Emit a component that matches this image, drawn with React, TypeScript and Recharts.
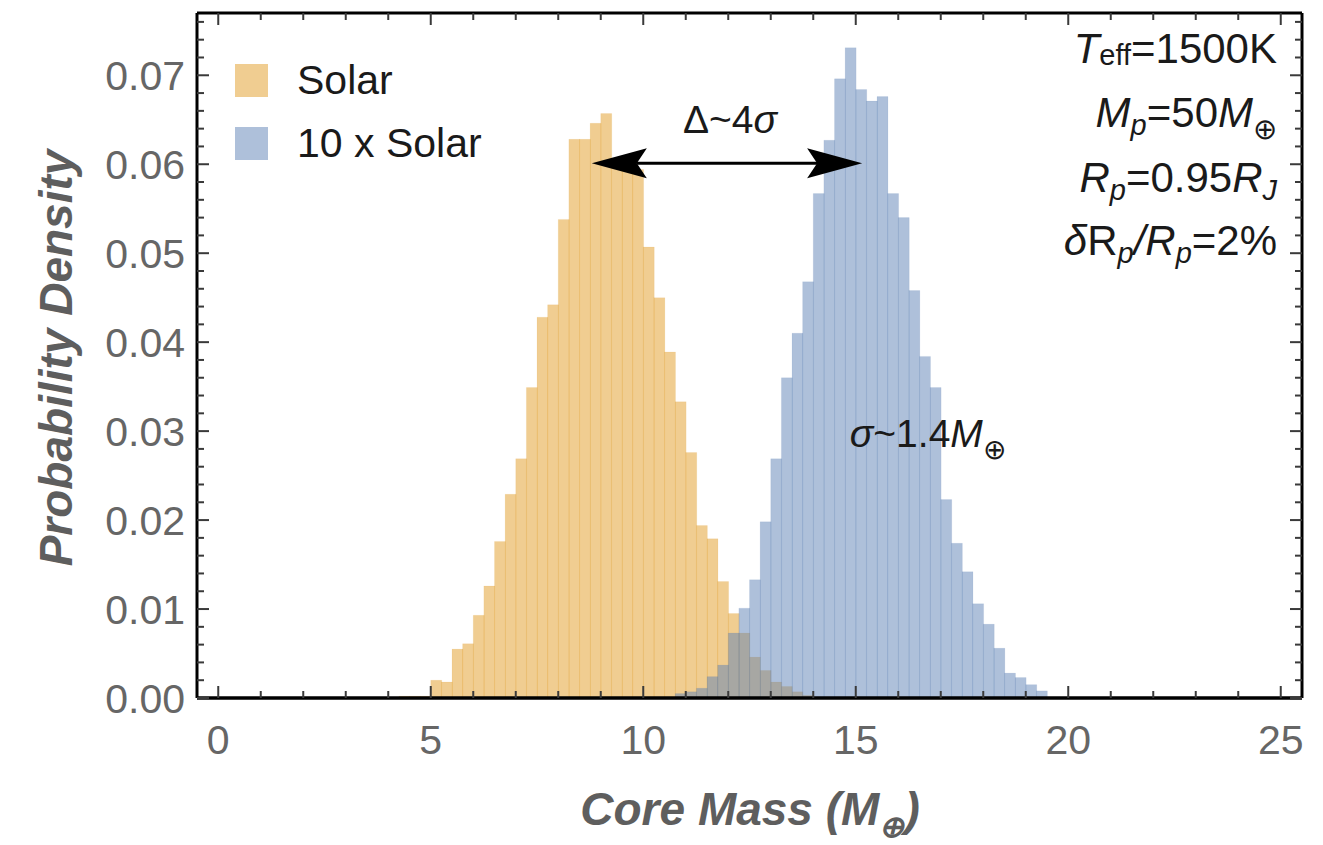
import React from 'react';
import {
  ComposedChart,
  Bar,
  XAxis,
  YAxis,
  ReferenceLine,
  ReferenceDot,
  Legend,
  Customized,
} from 'recharts';

const FONT = '"Liberation Sans", Arial, Helvetica, sans-serif';

// Histogram bins (left edges, width 0.25 Earth masses)
const BIN_WIDTH = 0.25;
const binStarts = [
  4.25, 4.5, 4.75, 5, 5.25, 5.5, 5.75, 6, 6.25, 6.5, 6.75, 7, 7.25, 7.5, 7.75,
  8, 8.25, 8.5, 8.75, 9, 9.25, 9.5, 9.75, 10, 10.25, 10.5, 10.75, 11, 11.25,
  11.5, 11.75, 12, 12.25, 12.5, 12.75, 13, 13.25, 13.5, 13.75, 14, 14.25, 14.5,
  14.75, 15, 15.25, 15.5, 15.75, 16, 16.25, 16.5, 16.75, 17, 17.25, 17.5, 17.75,
  18, 18.25, 18.5, 18.75, 19, 19.25,
];

const solar = [
  0.0002, 0.0002, 0.0002, 0.002, 0.0018, 0.0055, 0.0061, 0.0093, 0.0126, 0.0176,
  0.0229, 0.0269, 0.0349, 0.0428, 0.0442, 0.0538, 0.0628, 0.0628, 0.0646, 0.0657,
  0.0602, 0.0598, 0.0594, 0.0507, 0.045, 0.0389, 0.0333, 0.0276, 0.0194, 0.0179,
  0.0131, 0.0095, 0.0073, 0.0046, 0.0031, 0.0018, 0.0013, 0.0007, 0.0003,
  0, 0, 0, 0, 0, 0, 0, 0, 0, 0, 0, 0, 0, 0, 0, 0, 0, 0, 0, 0, 0, 0,
];

const tenSolar = [
  0, 0, 0, 0, 0, 0, 0, 0, 0, 0, 0, 0, 0, 0, 0, 0, 0, 0, 0, 0, 0, 0, 0, 0, 0, 0,
  0.0005, 0.0007, 0.0011, 0.0024, 0.0037, 0.0073, 0.0101, 0.0133, 0.0198, 0.0269,
  0.036, 0.041, 0.0468, 0.0567, 0.0627, 0.0696, 0.0731, 0.0684, 0.0671, 0.0676,
  0.0567, 0.054, 0.0458, 0.0384, 0.0349, 0.0223, 0.0174, 0.0142, 0.0106, 0.0083,
  0.0056, 0.0028, 0.0023, 0.0015, 0.0008,
];

const seriesNames = ['Solar', '10 x Solar'];
const seriesColors = ['#E19C24', '#5E81B5'];

const xDomain = [-0.5, 25.5];
const yDomain = [0, 0.077];
const xTicks = [0, 1, 2, 3, 4, 5, 6, 7, 8, 9, 10, 11, 12, 13, 14, 15, 16, 17, 18, 19, 20, 21, 22, 23, 24, 25];
const xMajorTicks = [0, 5, 10, 15, 20, 25];
const yTicks = [
  0, 0.002, 0.004, 0.006, 0.008, 0.01, 0.012, 0.014, 0.016, 0.018, 0.02, 0.022,
  0.024, 0.026, 0.028, 0.03, 0.032, 0.034, 0.036, 0.038, 0.04, 0.042, 0.044,
  0.046, 0.048, 0.05, 0.052, 0.054, 0.056, 0.058, 0.06, 0.062, 0.064, 0.066,
  0.068, 0.07, 0.072, 0.074, 0.076,
];
const yMajorTicks = [0, 0.01, 0.02, 0.03, 0.04, 0.05, 0.06, 0.07];
const yMajorLabels = ['0.00', '0.01', '0.02', '0.03', '0.04', '0.05', '0.06', '0.07'];

// annotation anchors (data coordinates)
const arrowStart = { x: 8.79, y: 0.0601 };
const arrowEnd = { x: 15.15, y: 0.0601 };
const sigmaAnchor = { x: 14.86, y: 0.0282 };

const rows = binStarts.map((s, i) => ({
  x: s + BIN_WIDTH / 2,
  solar: solar[i],
  tenSolar: tenSolar[i],
}));

const TICK_COLOR = '#3a3a3a';
const LABEL_GRAY = '#666666';

const isMajorY = (v: number) => yMajorTicks.some((m) => Math.abs(m - v) < 1e-9);
const yLabelOf = (v: number) => {
  const idx = yMajorTicks.findIndex((m) => Math.abs(m - v) < 1e-9);
  return idx >= 0 ? yMajorLabels[idx] : '';
};

const BottomTick = (props: any) => {
  const { x, y, payload } = props;
  const major = xMajorTicks.includes(payload.value);
  return (
    <g>
      <line x1={x} x2={x} y1={y} y2={y - (major ? 12 : 7)} stroke={TICK_COLOR} strokeWidth={2} />
      {major && (
        <text x={x} y={y + 56} textAnchor="middle" fontSize={41} fill={LABEL_GRAY} fontFamily={FONT}>
          {payload.value}
        </text>
      )}
    </g>
  );
};

const TopTick = (props: any) => {
  const { x, y, payload } = props;
  const major = xMajorTicks.includes(payload.value);
  return <line x1={x} x2={x} y1={y} y2={y + (major ? 12 : 7)} stroke={TICK_COLOR} strokeWidth={2} />;
};

const LeftTick = (props: any) => {
  const { x, y, payload } = props;
  const major = isMajorY(payload.value);
  return (
    <g>
      <line x1={x} x2={x + (major ? 12 : 7)} y1={y} y2={y} stroke={TICK_COLOR} strokeWidth={2} />
      {major && (
        <text x={x - 12} y={y + 15} textAnchor="end" fontSize={41} fill={LABEL_GRAY} fontFamily={FONT}>
          {yLabelOf(payload.value)}
        </text>
      )}
    </g>
  );
};

const RightTick = (props: any) => {
  const { x, y, payload } = props;
  const major = isMajorY(payload.value);
  return <line x1={x} x2={x - (major ? 12 : 7)} y1={y} y2={y} stroke={TICK_COLOR} strokeWidth={2} />;
};

const DoubleArrow = (props: any) => {
  const { x1, y1, x2, y2 } = props;
  const L = 55;
  const H = 15;
  const N = 45;
  const left = `${x1},${y1} ${x1 + L},${y1 - H} ${x1 + N},${y1} ${x1 + L},${y1 + H}`;
  const right = `${x2},${y2} ${x2 - L},${y2 - H} ${x2 - N},${y2} ${x2 - L},${y2 + H}`;
  return (
    <g>
      <line x1={x1 + N} y1={y1} x2={x2 - N} y2={y2} stroke="#000" strokeWidth={3} />
      <polygon points={left} fill="#000" />
      <polygon points={right} fill="#000" />
      <text x={(x1 + x2) / 2 + 3} y={y1 - 30} textAnchor="middle" fontSize={39} fontFamily={FONT} fill="#1a1a1a">
        Δ~4<tspan fontStyle="italic">σ</tspan>
      </text>
    </g>
  );
};

const SigmaLabel = (props: any) => {
  const { cx, cy } = props;
  return (
    <text x={cx} y={cy} fontSize={39} fontFamily={FONT} fill="#1a1a1a">
      <tspan fontStyle="italic">σ</tspan>~1.4<tspan fontStyle="italic">M</tspan>
      <tspan dy={12} fontSize={28}>⊕</tspan>
    </text>
  );
};

const LegendContent = (props: any) => {
  const payload = [...(props.payload || [])].sort(
    (a: any, b: any) => seriesNames.indexOf(a.value) - seriesNames.indexOf(b.value)
  );
  return (
    <div style={{ fontFamily: FONT }}>
      {payload.map((p: any, i: number) => (
        <div key={i} style={{ display: 'flex', alignItems: 'center', height: 63 }}>
          <span
            style={{ width: 33, height: 33, background: p.color, opacity: 0.5, display: 'inline-block' }}
          />
          <span style={{ marginLeft: 29, fontSize: 41, color: '#1a1a1a', lineHeight: '41px' }}>{p.value}</span>
        </div>
      ))}
    </div>
  );
};

const Annotations = () => {
  const fs = 42;
  const sub = 29;
  const rx = 1277;
  return (
    <g fontFamily={FONT} fill="#1a1a1a">
      <text x={rx} y={63} textAnchor="end" fontSize={fs}>
        <tspan fontStyle="italic">T</tspan>
        <tspan fontSize={sub} dy={2}>eff</tspan>
        <tspan dy={-2}>=1500K</tspan>
      </text>
      <text x={rx} y={127} textAnchor="end" fontSize={fs}>
        <tspan fontStyle="italic">M</tspan>
        <tspan fontSize={sub} fontStyle="italic" dy={8}>p</tspan>
        <tspan dy={-8}>=50</tspan>
        <tspan fontStyle="italic">M</tspan>
        <tspan fontSize={sub} dy={12}>⊕</tspan>
      </text>
      <text x={rx} y={192} textAnchor="end" fontSize={fs}>
        <tspan fontStyle="italic">R</tspan>
        <tspan fontSize={sub} fontStyle="italic" dy={8}>p</tspan>
        <tspan dy={-8}>=0.95</tspan>
        <tspan fontStyle="italic">R</tspan>
        <tspan fontSize={sub} fontStyle="italic" dy={8}>J</tspan>
      </text>
      <text x={rx} y={255} textAnchor="end" fontSize={fs}>
        <tspan fontStyle="italic">δ</tspan>R
        <tspan fontSize={sub} fontStyle="italic" dy={8}>p</tspan>
        <tspan dy={-8} fontStyle="italic">/R</tspan>
        <tspan fontSize={sub} fontStyle="italic" dy={8}>p</tspan>
        <tspan dy={-8}>=2%</tspan>
      </text>
      <text
        x={72}
        y={358}
        transform="rotate(-90, 72, 358)"
        textAnchor="middle"
        fontSize={46}
        fontWeight="bold"
        fontStyle="italic"
        fill="#5e5e5e"
      >
        Probability Density
      </text>
      <text x={750} y={825} textAnchor="middle" fontSize={46} fontWeight="bold" fontStyle="italic" fill="#5e5e5e">
        Core Mass (M<tspan fontSize={30} dy={12}>⊕</tspan>
        <tspan dy={-12}>)</tspan>
      </text>
    </g>
  );
};

export default function App() {
  return (
    <div style={{ position: 'absolute', left: 0, top: 0, width: 1323, height: 845, background: '#fff' }}>
      <ComposedChart
        width={1323}
        height={845}
        data={rows}
        margin={{ top: 0, right: 0, bottom: 0, left: 0 }}
        barCategoryGap={0}
        barGap={0}
      >
        <XAxis
          xAxisId="bottom"
          dataKey="x"
          type="number"
          domain={xDomain}
          allowDataOverflow
          ticks={xTicks}
          interval={0}
          orientation="bottom"
          height={147}
          axisLine={{ stroke: '#000', strokeWidth: 3.5 }}
          tickLine={false}
          tickSize={0}
          tickMargin={0}
          tick={<BottomTick />}
        />
        <XAxis
          xAxisId="top"
          dataKey="x"
          type="number"
          domain={xDomain}
          allowDataOverflow
          ticks={xTicks}
          interval={0}
          orientation="top"
          height={13}
          axisLine={{ stroke: '#000', strokeWidth: 3 }}
          tickLine={false}
          tickSize={0}
          tickMargin={0}
          tick={<TopTick />}
        />
        <YAxis
          yAxisId="left"
          type="number"
          domain={yDomain}
          allowDataOverflow
          ticks={yTicks}
          interval={0}
          width={197}
          axisLine={{ stroke: '#000', strokeWidth: 3 }}
          tickLine={false}
          tickSize={0}
          tickMargin={0}
          tick={<LeftTick />}
        />
        <YAxis
          yAxisId="right"
          orientation="right"
          type="number"
          domain={yDomain}
          allowDataOverflow
          ticks={yTicks}
          interval={0}
          width={21}
          axisLine={{ stroke: '#000', strokeWidth: 3 }}
          tickLine={false}
          tickSize={0}
          tickMargin={0}
          tick={<RightTick />}
        />
        <Bar
          xAxisId="bottom"
          yAxisId="left"
          dataKey="solar"
          name={seriesNames[0]}
          fill={seriesColors[0]}
          fillOpacity={0.5}
          stroke={seriesColors[0]}
          strokeOpacity={0.08}
          strokeWidth={1}
          isAnimationActive={false}
        />
        <Bar
          xAxisId="top"
          yAxisId="right"
          dataKey="tenSolar"
          name={seriesNames[1]}
          fill={seriesColors[1]}
          fillOpacity={0.5}
          stroke={seriesColors[1]}
          strokeOpacity={0.08}
          strokeWidth={1}
          isAnimationActive={false}
        />
        <ReferenceLine
          xAxisId="bottom"
          yAxisId="left"
          segment={[arrowStart, arrowEnd]}
          shape={DoubleArrow}
        />
        <ReferenceDot
          xAxisId="bottom"
          yAxisId="left"
          x={sigmaAnchor.x}
          y={sigmaAnchor.y}
          r={0}
          shape={SigmaLabel}
        />
        <Legend
          layout="vertical"
          align="center"
          verticalAlign="middle"
          content={<LegendContent />}
          wrapperStyle={{ position: 'absolute', left: 235, top: 49, width: 'auto', height: 'auto' }}
        />
        <Customized component={<Annotations />} />
      </ComposedChart>
    </div>
  );
}
